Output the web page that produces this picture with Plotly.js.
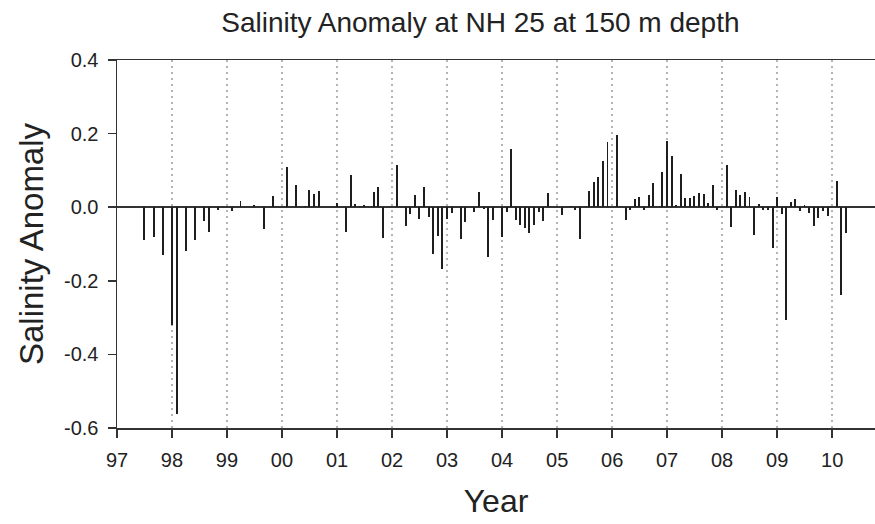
<!DOCTYPE html>
<html>
<head>
<meta charset="utf-8">
<script src="https://cdn.plot.ly/plotly-3.0.1.min.js"></script>
<style>html,body{margin:0;padding:0;background:#fff;}#chart{width:875px;height:524px;}</style>
</head>
<body>
<div id="chart"></div>
<script>
// Sampling months (first of month)
const months = ['1997-07','1997-09','1997-11','1998-01','1998-02','1998-04','1998-06','1998-08','1998-09','1998-11',
'1999-02','1999-04','1999-07','1999-09','1999-11',
'2000-02','2000-04','2000-06','2000-07','2000-08','2000-09',
'2001-01','2001-03','2001-04','2001-05','2001-06','2001-07','2001-09','2001-10','2001-11',
'2002-02','2002-04','2002-05','2002-06','2002-07','2002-08','2002-09','2002-10','2002-11','2002-12',
'2003-01','2003-02','2003-04','2003-05','2003-07','2003-08','2003-09','2003-10','2003-11',
'2004-01','2004-02','2004-03','2004-04','2004-05','2004-06','2004-07','2004-08','2004-09','2004-10','2004-11',
'2005-02','2005-04','2005-05','2005-06','2005-08','2005-09','2005-10','2005-11','2005-12',
'2006-02','2006-04','2006-05','2006-06','2006-07','2006-08','2006-09','2006-10','2006-12',
'2007-01','2007-02','2007-03','2007-04','2007-05','2007-06','2007-07','2007-08','2007-09','2007-10','2007-11','2007-12',
'2008-02','2008-03','2008-04','2008-05','2008-06','2008-07','2008-08','2008-09','2008-10','2008-11','2008-12',
'2009-01','2009-02','2009-03','2009-04','2009-05','2009-06','2009-07','2009-08','2009-09','2009-10','2009-11','2009-12',
'2010-02','2010-03','2010-04'];

// Salinity anomaly values
const anomaly = [-0.089,-0.082,-0.130,-0.321,-0.562,-0.120,-0.088,-0.038,-0.068,-0.007,
-0.009,0.018,0.005,-0.059,0.030,
0.109,0.059,0.003,0.048,0.037,0.043,
0.012,-0.068,0.088,0.010,0.002,0.006,0.040,0.056,-0.084,
0.114,-0.052,-0.018,0.032,-0.032,0.054,-0.027,-0.127,-0.077,-0.168,
-0.032,-0.016,-0.086,-0.040,-0.012,0.042,-0.005,-0.136,-0.034,
-0.082,-0.014,0.157,-0.036,-0.048,-0.056,-0.071,-0.047,-0.014,-0.038,0.039,
-0.021,0.004,-0.007,-0.086,0.045,0.068,0.081,0.125,0.176,
0.197,-0.034,-0.007,0.023,0.028,-0.007,0.034,0.066,0.097,
0.181,0.140,0.007,0.089,0.024,0.025,0.030,0.039,0.037,0.012,0.059,-0.007,
0.116,-0.055,0.048,0.034,0.042,0.029,-0.075,0.009,-0.007,-0.007,-0.111,
0.027,-0.018,-0.307,0.013,0.023,-0.011,0.005,-0.015,-0.052,-0.029,-0.011,-0.025,
0.072,-0.238,-0.069];

const xTickVals = ['1997-01-01','1998-01-01','1999-01-01','2000-01-01','2001-01-01','2002-01-01','2003-01-01',
'2004-01-01','2005-01-01','2006-01-01','2007-01-01','2008-01-01','2009-01-01','2010-01-01'];
const xTickText = ['97','98','99','00','01','02','03','04','05','06','07','08','09','10'];
const yTickVals = [-0.6,-0.4,-0.2,0.0,0.2,0.4];
const yTickText = ['-0.6','-0.4','-0.2','0.0','0.2','0.4'];

const trace = {
  type: 'bar',
  x: months.map(m => m + '-01'),
  y: anomaly,
  width: 1.1e9,
  marker: {color: '#1e1e1e', line: {width: 0}},
  hoverinfo: 'x+y'
};

const layout = {
  width: 875, height: 524,
  margin: {l: 117, r: 0, t: 60, b: 96},
  paper_bgcolor: '#ffffff', plot_bgcolor: '#ffffff',
  font: {family: 'Liberation Sans, Arial, sans-serif', color: '#222222'},
  showlegend: false,
  bargap: 0,
  title: {text: 'Salinity Anomaly at NH 25 at 150 m depth', font: {size: 28, color: '#222222'},
          xref: 'container', x: 0.549, xanchor: 'center', yref: 'container', y: 0.957, yanchor: 'middle'},
  xaxis: {
    type: 'date',
    range: ['1997-01-01', '2010-10-12'],
    tickmode: 'array', tickvals: xTickVals, ticktext: xTickText,
    ticks: 'outside', ticklen: 8, tickwidth: 1.5, tickcolor: '#333333',
    tickfont: {size: 20, color: '#222222'},
    ticklabelstandoff: 5,
    showline: true, linecolor: '#333333', linewidth: 1.5, mirror: true,
    showgrid: true, gridcolor: '#b4b4b4', gridwidth: 1.5, griddash: '2px,4px',
    zeroline: false,
    title: {text: 'Year', font: {size: 32, color: '#222222'}, standoff: 20}
  },
  yaxis: {
    range: [-0.6, 0.4],
    tickmode: 'array', tickvals: yTickVals, ticktext: yTickText,
    ticks: 'outside', ticklen: 8, tickwidth: 1.5, tickcolor: '#333333',
    tickfont: {size: 20, color: '#222222'},
    ticklabelstandoff: 5,
    showline: true, linecolor: '#333333', linewidth: 1.5, mirror: false,
    showgrid: false,
    zeroline: true, zerolinecolor: '#333333', zerolinewidth: 2,
    title: {text: 'Salinity Anomaly', font: {size: 33, color: '#222222'}, standoff: 10}
  }
};

Plotly.newPlot('chart', [trace], layout, {displayModeBar: false, staticPlot: true});
</script>
</body>
</html>
